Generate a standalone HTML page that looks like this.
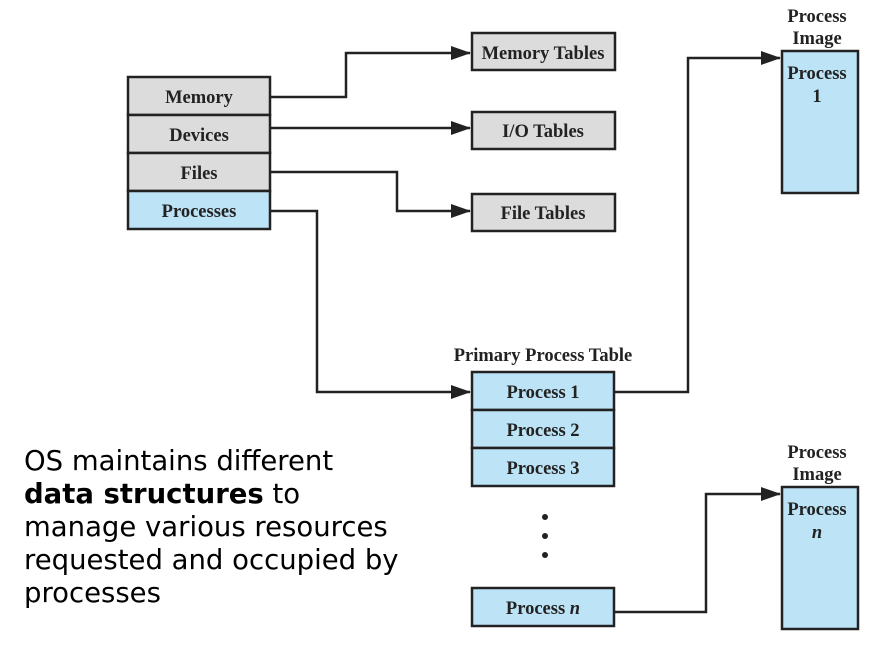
<!DOCTYPE html>
<html><head><meta charset="utf-8"><style>
html,body{margin:0;padding:0;background:#fff;width:871px;height:661px;overflow:hidden}
svg{display:block}
.lb{font-family:"Liberation Serif",serif;font-weight:bold;font-size:18.5px;fill:#222;text-anchor:middle}
.t{font-family:"DejaVu Sans",sans-serif;font-size:27.5px;fill:#000}
</style></head><body>
<svg width="871" height="661" viewBox="0 0 871 661" xmlns="http://www.w3.org/2000/svg">
<defs><marker id="a" markerWidth="20" markerHeight="14" refX="19" refY="7" orient="auto" markerUnits="userSpaceOnUse"><path d="M0,0 L20,7 L0,14 Z" fill="#222"/></marker></defs>
<g stroke="#222" stroke-width="2.5">
<rect x="128" y="77" width="142" height="38" fill="#dcdcdc"/>
<rect x="128" y="115" width="142" height="38" fill="#dcdcdc"/>
<rect x="128" y="153" width="142" height="38" fill="#dcdcdc"/>
<rect x="128" y="191" width="142" height="38" fill="#bde3f6"/>
<rect x="472" y="33" width="143" height="37" fill="#dcdcdc"/>
<rect x="472" y="112" width="143" height="37" fill="#dcdcdc"/>
<rect x="472" y="194" width="143" height="37" fill="#dcdcdc"/>
<rect x="472" y="372" width="142" height="38" fill="#bde3f6"/>
<rect x="472" y="410" width="142" height="38" fill="#bde3f6"/>
<rect x="472" y="448" width="142" height="38" fill="#bde3f6"/>
<rect x="472" y="588" width="142" height="38" fill="#bde3f6"/>
<rect x="782" y="51" width="76" height="142" fill="#bde3f6"/>
<rect x="782" y="487" width="76" height="142" fill="#bde3f6"/>
</g>
<g stroke="#222" stroke-width="2.5" fill="none" marker-end="url(#a)">
<polyline points="270,97 346,97 346,53 470,53"/>
<polyline points="270,128 470,128"/>
<polyline points="270,172 397,172 397,211 470,211"/>
<polyline points="270,211 317,211 317,392 470,392"/>
<polyline points="614,392 688,392 688,58 780,58"/>
<polyline points="614,612 706,612 706,494 780,494"/>
</g>
<g fill="#222"><circle cx="545" cy="517" r="3"/><circle cx="545" cy="536" r="3"/><circle cx="545" cy="555" r="3"/></g>
<text class="lb" x="199" y="103">Memory</text>
<text class="lb" x="199" y="141">Devices</text>
<text class="lb" x="199" y="179">Files</text>
<text class="lb" x="199" y="217">Processes</text>
<text class="lb" x="543" y="59">Memory Tables</text>
<text class="lb" x="543" y="137">I/O Tables</text>
<text class="lb" x="543" y="219">File Tables</text>
<text class="lb" x="543" y="361">Primary Process Table</text>
<text class="lb" x="543" y="398">Process 1</text>
<text class="lb" x="543" y="436">Process 2</text>
<text class="lb" x="543" y="474">Process 3</text>
<text class="lb" x="543" y="614">Process <tspan font-style="italic">n</tspan></text>
<text class="lb" x="817" y="22">Process</text>
<text class="lb" x="817" y="44">Image</text>
<text class="lb" x="817" y="79">Process</text>
<text class="lb" x="817" y="102">1</text>
<text class="lb" x="817" y="458">Process</text>
<text class="lb" x="817" y="480">Image</text>
<text class="lb" x="817" y="515">Process</text>
<text class="lb" x="817" y="538" font-style="italic">n</text>
<text class="t" x="24" y="470">OS maintains different</text>
<text class="t" x="24" y="503"><tspan font-weight="bold">data structures</tspan> to</text>
<text class="t" x="24" y="536">manage various resources</text>
<text class="t" x="24" y="569">requested and occupied by</text>
<text class="t" x="24" y="602">processes</text>
</svg>
</body></html>
